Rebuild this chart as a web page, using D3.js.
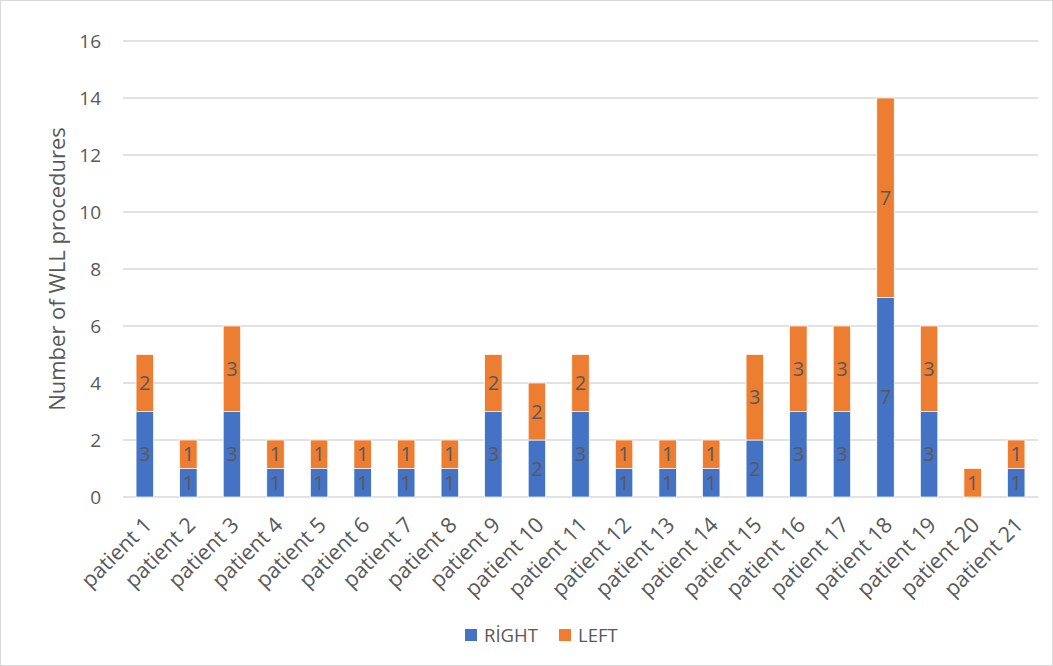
<!DOCTYPE html>
<html>
<head>
<meta charset="utf-8">
<script src="https://cdn.jsdelivr.net/npm/d3@7"></script>
<style>
  body { margin: 0; background: #fff; }
  text { font-family: "Open Sans", "Liberation Sans", sans-serif; fill: #595959; }
</style>
</head>
<body>
<div id="chart"></div>
<script>
const patients = d3.range(1, 22).map(i => `patient ${i}`);
const rightValues = [3, 1, 3, 1, 1, 1, 1, 1, 3, 2, 3, 1, 1, 1, 2, 3, 3, 7, 3, 0, 1];
const leftValues  = [2, 1, 3, 1, 1, 1, 1, 1, 2, 2, 2, 1, 1, 1, 3, 3, 3, 7, 3, 1, 1];
const seriesNames = ['RİGHT', 'LEFT'];
const seriesColors = ['#4472C4', '#ED7D31'];
const yTicks = [0, 2, 4, 6, 8, 10, 12, 14, 16];

const WIDTH = 1053, HEIGHT = 666;
const MARGIN = { top: 41, right: 15, bottom: 169, left: 123 };
const CHART_WIDTH = WIDTH - MARGIN.left - MARGIN.right;
const CHART_HEIGHT = HEIGHT - MARGIN.top - MARGIN.bottom;

const table = patients.map((p, i) => ({ name: p, 'RİGHT': rightValues[i], 'LEFT': leftValues[i] }));
const stacked = d3.stack().keys(seriesNames)(table);

const root = d3.select('#chart')
  .append('svg')
    .attr('width', WIDTH)
    .attr('height', HEIGHT);

root.append('rect')
  .attr('x', 0.5).attr('y', 0.5)
  .attr('width', WIDTH - 1).attr('height', HEIGHT - 1)
  .attr('fill', '#fff')
  .attr('stroke', '#d9d9d9');

const svg = root.append('g')
  .attr('transform', `translate(${MARGIN.left}, ${MARGIN.top})`);

const y = d3.scaleLinear().domain([0, 16]).range([CHART_HEIGHT, 0]);
const x = d3.scaleBand().domain(patients).range([0, CHART_WIDTH]).paddingInner(0.6).paddingOuter(0.3);

// gridlines
svg.append('g')
  .selectAll('line')
  .data(yTicks)
  .enter().append('line')
    .attr('x1', 0).attr('x2', CHART_WIDTH)
    .attr('y1', d => y(d)).attr('y2', d => y(d))
    .attr('stroke', '#d9d9d9')
    .attr('stroke-width', 1.3);

// y axis labels
const yAxis = svg.append('g')
  .call(d3.axisLeft(y).tickValues(yTicks).tickSize(0).tickPadding(22));
yAxis.select('.domain').remove();
yAxis.selectAll('text')
  .attr('font-size', 19)
  .attr('font-family', '"Open Sans", sans-serif')
  .attr('fill', '#595959');

// x axis labels
const xAxis = svg.append('g')
  .attr('transform', `translate(0, ${CHART_HEIGHT})`)
  .call(d3.axisBottom(x).tickSize(0).tickPadding(0));
xAxis.select('.domain').remove();
xAxis.selectAll('text')
  .attr('font-size', 21.5)
  .attr('font-family', '"Open Sans", sans-serif')
  .attr('fill', '#595959')
  .attr('text-anchor', 'end')
  .attr('dy', '0.35em')
  .attr('transform', 'translate(3, 24) rotate(-45)');

// bars
const groups = svg.selectAll('.series')
  .data(stacked)
  .enter().append('g')
    .attr('class', 'series')
    .attr('fill', (d, i) => seriesColors[i]);

groups.selectAll('rect')
  .data(d => d)
  .enter().append('rect')
    .attr('x', d => x(d.data.name))
    .attr('y', d => y(d[1]))
    .attr('width', x.bandwidth())
    .attr('height', d => y(d[0]) - y(d[1]))
    .attr('stroke', '#fff')
    .attr('stroke-width', 0.7);

// data labels
groups.selectAll('.lbl')
  .data(d => d.filter(s => s[1] - s[0] > 0))
  .enter().append('text')
    .attr('class', 'lbl')
    .attr('x', d => x(d.data.name) + x.bandwidth() / 2)
    .attr('y', d => (y(d[0]) + y(d[1])) / 2)
    .attr('dy', '0.36em')
    .attr('text-anchor', 'middle')
    .attr('font-size', 20)
    .text(d => d[1] - d[0]);

// y axis title
svg.append('text')
  .attr('x', -(CHART_HEIGHT / 2))
  .attr('y', -58)
  .attr('text-anchor', 'middle')
  .attr('transform', 'rotate(-90)')
  .attr('font-size', 22)
  .text('Number of WLL procedures');

// legend
const legend = root.append('g').attr('transform', 'translate(465, 635)');
const legendX = [0, 94];
seriesNames.forEach((name, i) => {
  const g = legend.append('g').attr('transform', `translate(${legendX[i]}, 0)`);
  g.append('rect')
    .attr('x', 0).attr('y', -6)
    .attr('width', 12).attr('height', 12)
    .attr('fill', seriesColors[i]);
  g.append('text')
    .attr('x', 19)
    .attr('dy', '0.36em')
    .attr('font-size', 18.5)
    .text(name);
});
</script>
</body>
</html>
